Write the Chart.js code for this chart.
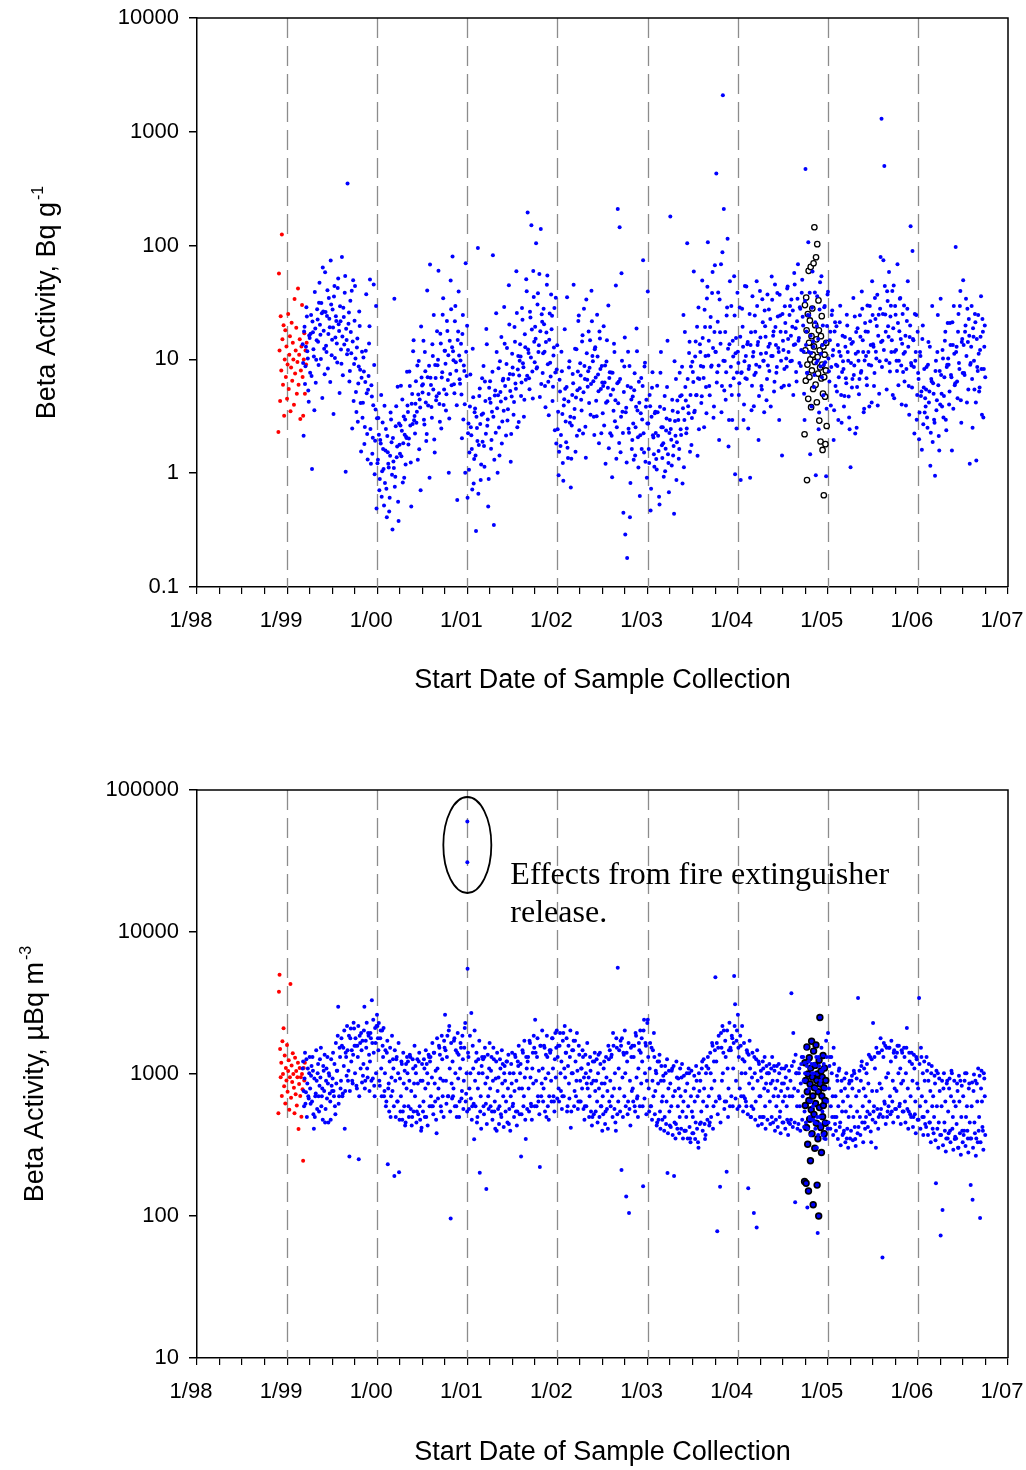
<!DOCTYPE html>
<html>
<head>
<meta charset="utf-8">
<script src="https://cdn.jsdelivr.net/npm/chart.js@4.4.1/dist/chart.umd.min.js"></script>
<style>
  html, body { margin: 0; padding: 0; background: #fff; }
  #wrap { position: relative; width: 1026px; height: 1470px; }
  .box { position: absolute; left: 0; width: 1026px; }
</style>
</head>
<body>
<div id="wrap">
  <div class="box" style="top:0;height:740px"><canvas id="topChart"></canvas></div>
  <div class="box" style="top:740px;height:730px"><canvas id="bottomChart"></canvas></div>
</div>
<script>
const FONT = "'Liberation Sans', Arial, sans-serif";
const SERIF = "'Liberation Serif', 'Times New Roman', serif";

// axis ticks
const yearTicks = [1998, 1999, 2000, 2001, 2002, 2003, 2004, 2005, 2006, 2007];
const yearLabels = ['1/98', '1/99', '1/00', '1/01', '1/02', '1/03', '1/04', '1/05', '1/06', '1/07'];
const quarterOffsets = [0.25, 0.5, 0.75];
const dashedYears = [1999, 2000, 2001, 2002, 2003, 2004, 2005, 2006];
const topYTicks = [0.1, 1, 10, 100, 1000, 10000];
const topYLabels = ['0.1', '1', '10', '100', '1000', '10000'];
const botYTicks = [10, 100, 1000, 10000, 100000];
const botYLabels = ['10', '100', '1000', '10000', '100000'];

// ---- top chart, Bq/g (two runs of 8 samples per month, in time order) ----
const topRed = [2.3, 57, 12, 4.3, 24, 8, 125, 15, 6, 20, 3.2, 10, 18, 7, 13, 4.5, 9, 25, 5.5, 11, 16, 3.5, 8.5, 21, 6.5,
  14, 10, 4, 34, 7.5, 12, 19, 5, 9.5, 42, 6, 11, 15, 3, 8, 13, 30, 7, 3.2, 10, 17, 5, 12, 9, 14];
const top1999 = [
  13.6, 2.13, 19.4, 8.72, 28.7, 11.8, 5.34, 16.2,  7.64, 24.5, 1.09, 17.3, 10.6, 39.1, 6.22, 14.7,
  22.4, 8.92, 47.2, 16.5, 31.3, 4.58, 26.3, 12.4,  58.4, 13.2, 24.1, 8.31, 34.6, 19.2, 73.8, 10.9,
  27.5, 3.31, 44.1, 15.6, 21.7, 9.39, 51.3, 17.8,  29.3, 12.2, 79.4, 7.26, 23.6, 38.5, 1.03, 14.8,
  352, 20.6, 6.41, 32.7, 11.3, 2.47, 49.5, 9.13,  44.2, 5.18, 12.7, 2.83, 8.64, 19.7, 4.13, 6.89,
  3.07, 10.4, 1.81, 6.33, 37.4, 2.21, 5.41, 13.8,  50.3, 1.21, 4.71, 2.05, 45.6, 0.98, 3.62, 0.49];
const top1999b = [
  9.31, 17.6, 6.08, 12.9, 23.8, 10.2, 4.24, 15.4,  16.8, 7.13, 21.5, 12.3, 3.58, 18.7, 9.92, 27.6,
  14.3, 31.5, 20.2, 10.1, 25.4, 64.2, 17.9, 7.42,  26.1, 11.6, 40.5, 16.7, 22.8, 6.34, 30.4, 14.9,
  19.1, 35.7, 10.3, 23.9, 13.8, 42.3, 20.4, 5.07,  21.6, 9.18, 15.9, 28.4, 13.5, 54.1, 18.6, 11.1,
  12.1, 25.8, 7.91, 17.4, 40.2, 14.4, 4.32, 21.9,  10.2, 3.45, 15.3, 6.15, 26.4, 8.11, 1.55, 11.7,
  4.15, 7.83, 2.55, 11.9, 5.05, 1.32, 7.16, 19.6,  2.45, 5.92, 1.48, 3.95, 8.93, 1.93, 29.5, 3.04];
const top2000 = [
  1.22, 3.05, 0.71, 1.96, 4.86, 1.04, 1.63, 0.52,  0.82, 2.45, 0.41, 1.53, 1.12, 0.61, 3.41, 1.87,
  0.32, 1.27, 34.2, 0.93, 3.88, 1.72, 0.56, 2.74,  1.48, 5.87, 2.36, 0.83, 3.15, 2.18, 1.19, 2.04,
  3.93, 1.79, 7.82, 2.62, 0.51, 4.97, 11.8, 2.92,  2.23, 6.42, 3.46, 1.31, 9.66, 4.45, 0.71, 6.93,
  5.11, 14.6, 2.68, 7.88, 1.92, 40.3, 3.94, 8.81,  68.2, 5.96, 3.07, 10.7, 24.6, 1.52, 6.85, 4.75,
  8.87, 60.1, 4.06, 16.8, 2.47, 7.71, 34.5, 5.45,  11.9, 3.55, 21.7, 6.58, 1.01, 14.6, 49.3, 5.93,
  80.2, 9.81, 5.04, 29.4, 7.95, 0.58, 17.6, 10.8,  6.12, 13.7, 2.03, 24.6, 8.85, 4.04, 70.1, 7.15];
const top2000b = [
  1.31, 2.18, 0.89, 1.82, 0.62, 2.79, 1.09, 3.92,  1.58, 0.73, 2.12, 1.21, 0.46, 1.42, 2.96, 0.97,
  2.04, 1.11, 0.76, 2.58, 1.38, 5.76, 0.38, 1.78,  2.63, 1.41, 4.45, 1.83, 0.91, 2.97, 2.09, 7.78,
  3.45, 2.02, 5.85, 1.24, 4.07, 2.71, 14.7, 3.18,  4.08, 2.77, 8.85, 4.92, 1.62, 3.78, 19.5, 5.91,
  6.05, 2.95, 11.6, 4.18, 2.21, 6.97, 4.96, 0.91,  6.9, 3.82, 13.6, 5.45, 1.98, 8.95, 4.38, 17.7,
  9.92, 5.05, 2.83, 13.8, 6.95, 24.7, 3.97, 11.9,  9.14, 4.95, 17.8, 10.9, 3.02, 7.45, 27.6, 12.8,
  11.8, 6.05, 21.6, 9.45, 3.96, 14.8, 39.5, 6.68,  9.78, 4.92, 16.7, 2.96, 7.92, 1.01, 11.7, 19.8];
const top2001 = [
  0.61, 2.73, 1.52, 7.37, 2.16, 0.72, 4.64, 1.33,  3.71, 0.31, 2.49, 95.2, 1.77, 5.56, 0.87, 3.27,
  1.89, 8.76, 1.14, 4.32, 18.5, 2.61, 0.51, 5.63,  6.43, 1.64, 3.47, 82.4, 0.35, 4.81, 2.27, 11.6,
  1.01, 8.36, 1.43, 5.18, 15.7, 2.84, 6.77, 28.8,  5.83, 2.14, 12.6, 3.64, 44.8, 7.46, 1.26, 4.72,
  8.47, 3.26, 19.3, 6.14, 59.6, 2.54, 10.7, 7.23,  13.6, 4.78, 28.3, 9.24, 3.14, 16.6, 6.62, 39.8,
  195, 11.4, 5.47, 23.4, 151, 7.84, 59.8, 14.3,  19.4, 105, 8.54, 38.2, 13.3, 4.67, 140, 24.9,
  7.61, 27.9, 11.7, 3.79, 17.2, 54.6, 6.37, 14.9,  9.34, 37.2, 24.2, 5.74, 12.7, 2.39, 34.8, 8.15];
const top2001b = [
  2.24, 1.07, 3.86, 2.53, 1.63, 12.4, 0.81, 3.43,  1.43, 3.14, 1.92, 0.66, 4.76, 2.71, 1.19, 6.82,
  3.34, 1.73, 6.38, 2.22, 13.6, 2.97, 0.89, 4.52,  4.17, 1.96, 7.78, 3.13, 1.31, 5.33, 25.4, 3.73,
  4.84, 2.52, 9.63, 4.26, 1.82, 6.54, 3.54, 13.7,  4.53, 9.12, 2.91, 6.72, 20.3, 5.27, 2.21, 11.2,
  7.36, 4.22, 14.3, 5.52, 25.6, 8.17, 2.82, 9.71,  10.6, 6.26, 22.3, 8.53, 4.43, 12.8, 50.6, 7.17,
  12.2, 6.84, 26.2, 10.4, 18.3, 4.54, 35.3, 9.44,  15.2, 8.33, 30.3, 11.6, 56.2, 17.7, 6.07, 21.4,
  11.3, 20.4, 5.83, 14.2, 45.3, 9.06, 3.23, 25.3,  7.07, 18.4, 4.32, 10.8, 28.3, 7.66, 1.82, 13.3];
const top2002 = [
  2.43, 0.96, 6.64, 1.73, 11.7, 3.32, 0.86, 4.47,  5.53, 1.87, 35.1, 1.36, 8.48, 2.77, 0.75, 2.63,
  7.44, 45.3, 3.67, 1.54, 12.3, 5.36, 21.7, 2.38,  9.26, 4.42, 14.4, 2.23, 27.8, 6.73, 1.37, 11.3,
  5.76, 17.6, 8.43, 3.27, 40.2, 10.7, 6.42, 2.17,  12.8, 4.34, 24.7, 7.36, 1.83, 15.3, 5.49, 8.77,
  3.36, 19.6, 6.26, 1.21, 9.56, 4.28, 29.7, 6.86,  2.24, 7.67, 0.92, 5.43, 13.7, 2.86, 44.6, 2.54,
  210, 6.37, 145, 1.53, 57.2, 3.47, 0.45, 8.66,  0.29, 3.76, 0.18, 11.7, 2.27, 0.41, 5.67, 1.63,
  4.73, 1.31, 7.54, 2.53, 18.7, 3.56, 1.12, 4.16,  2.16, 6.88, 2.97, 74.3, 1.52, 9.34, 3.83, 0.91];
const top2002b = [
  3.46, 1.54, 5.23, 2.17, 7.86, 1.23, 3.94, 18.4,  2.84, 5.73, 1.67, 4.26, 9.63, 3.13, 1.34, 4.87,
  6.16, 3.07, 12.4, 4.63, 2.13, 7.84, 24.3, 5.57,  7.23, 3.56, 16.3, 5.14, 8.73, 2.56, 33.6, 6.63,
  7.86, 4.14, 14.7, 6.08, 21.6, 9.64, 3.13, 12.3,  6.94, 3.17, 10.6, 5.26, 17.6, 8.23, 2.24, 6.27,
  5.83, 2.63, 8.86, 4.17, 14.7, 5.64, 1.66, 7.73,  4.86, 2.13, 7.64, 3.53, 11.6, 4.37, 1.34, 6.18,
  4.12, 1.84, 6.73, 3.14, 9.73, 2.26, 5.17, 15.6,  3.43, 1.24, 5.83, 2.46, 8.74, 0.82, 4.44, 1.96,
  2.74, 5.37, 1.43, 3.84, 11.8, 2.07, 6.36, 0.63,  3.37, 1.63, 5.83, 2.24, 8.67, 1.26, 4.43, 2.73];
const top2003 = [
  39.6, 1.63, 4.87, 0.47, 3.14, 7.73, 2.06, 1.14,  3.47, 1.33, 5.86, 2.13, 0.62, 3.83, 11.6, 1.76,
  2.53, 0.93, 4.76, 1.64, 3.03, 14.6, 1.23, 2.26,  180, 1.97, 4.43, 1.43, 0.44, 2.87, 6.74, 1.87,
  3.43, 1.34, 7.63, 2.43, 4.83, 0.81, 24.6, 2.93,  5.73, 2.24, 105, 3.87, 11.4, 1.54, 8.64, 3.06,
  7.76, 59.3, 3.53, 14.4, 4.86, 1.42, 28.6, 6.73,  11.6, 4.13, 49.4, 8.63, 2.53, 19.3, 5.73, 34.3,
  107, 14.6, 4.83, 23.6, 8.86, 58.6, 3.07, 17.4,  11.7, 430, 7.73, 38.7, 1.96, 17.3, 68.6, 5.84,
  2100, 210, 9.66, 4.43, 24.3, 115, 1.72, 13.6,  5.86, 29.4, 2.93, 10.6, 53.7, 0.98, 15.4, 7.67];
const top2003b = [
  2.74, 1.23, 3.87, 0.73, 5.64, 2.16, 1.47, 3.37,  2.26, 1.08, 3.43, 1.57, 0.53, 7.64, 2.54, 1.36,
  1.83, 3.66, 1.04, 2.37, 5.73, 1.47, 0.68, 2.93,  2.44, 1.17, 3.54, 1.73, 9.64, 2.13, 0.87, 4.36,
  2.93, 1.63, 4.74, 2.17, 8.63, 3.73, 1.13, 17.4,  4.36, 2.47, 6.73, 3.36, 14.3, 4.87, 1.77, 9.53,
  6.34, 3.43, 10.6, 4.84, 19.4, 6.83, 2.43, 13.6,  8.73, 4.74, 15.4, 6.86, 27.3, 10.7, 3.36, 43.6,
  10.8, 5.84, 19.3, 8.63, 38.4, 12.6, 3.86, 67.3,  11.6, 6.27, 21.4, 8.84, 33.6, 13.7, 3.43, 87.4,
  9.73, 5.34, 17.4, 7.73, 28.6, 12.4, 2.93, 48.6,  8.63, 4.87, 14.6, 6.83, 24.3, 11.3, 2.47, 38.6];
const top2004 = [
  11.7, 4.86, 28.6, 0.87, 7.73, 19.4, 2.93, 9.64,  6.84, 43.7, 13.6, 2.47, 8.73, 0.91, 17.3, 5.86,
  10.6, 3.87, 24.3, 7.64, 48.6, 13.4, 1.96, 8.63,  15.6, 5.84, 33.7, 9.73, 3.43, 19.6, 11.4, 6.73,
  8.84, 27.4, 13.7, 3.86, 53.6, 10.7, 17.6, 6.37,  19.3, 7.63, 38.4, 12.6, 2.94, 24.3, 9.73, 1.43,
  14.6, 5.87, 29.3, 17.4, 8.63, 43.7, 11.6, 24.6,  9.63, 33.6, 19.4, 4.87, 57.4, 13.6, 7.74, 21.6,
  68.7, 15.4, 28.7, 8.73, 38.6, 23.7, 11.7, 2.94,  470, 17.6, 7.63, 107, 24.3, 1.47, 11.4, 28.4,
  14.4, 5.73, 38.7, 0.96, 19.6, 9.74, 2.43, 27.4,  8.64, 53.7, 13.4, 4.84, 28.7, 9.43, 0.94, 19.7];
const top2004b = [
  9.31, 6.18, 15.8, 7.59, 27.8, 12.9, 4.02, 44.1,  10.7, 6.72, 14.2, 8.25, 25.1, 13.4, 3.58, 35.8,
  11.6, 7.28, 17.5, 8.96, 29.5, 14.2, 4.76, 39.9,  11.2, 5.45, 21.2, 9.72, 26.9, 15.8, 4.37, 37.2,
  12.9, 7.91, 22.7, 10.7, 33.4, 16.1, 5.21, 45.5,  13.4, 8.58, 23.8, 11.6, 36.9, 17.5, 5.67, 25.1,
  12.1, 8.25, 20.9, 10.2, 41.9, 15.1, 5.93, 29.5,  16.1, 9.72, 26.9, 13.4, 45.5, 18.8, 6.41, 34.1,
  14.6, 9.31, 27.8, 12.1, 50.1, 19.9, 4.98, 32.6,  13.4, 7.59, 24.5, 11.6, 38.5, 16.1, 3.85, 59.3,
  12.9, 7.28, 21.2, 9.31, 35.8, 15.1, 3.41, 47.6,  11.2, 6.97, 19.9, 8.96, 29.5, 14.2, 3.69, 37.2];
const top2005 = [
  39.4, 7.86, 14.7, 3.93, 24.6, 10.8, 1.96, 17.6,  5.84, 19.6, 8.73, 2.93, 11.7, 29.6, 4.87, 7.74,
  9.63, 3.86, 15.7, 6.84, 24.7, 11.6, 4.73, 2.43,  1.13, 13.7, 6.73, 34.6, 8.84, 2.23, 17.4, 5.73,
  11.7, 4.93, 24.4, 7.63, 39.6, 14.7, 3.43, 9.76,  17.6, 6.84, 29.7, 11.6, 3.86, 21.6, 8.83, 48.7,
  13.6, 5.84, 34.7, 11.7, 19.7, 3.93, 24.7, 9.64,  79.6, 1300, 14.6, 74.3, 500, 24.8, 9.83, 39.7,
  19.6, 58.7, 7.84, 29.6, 14.7, 4.86, 44.6, 11.7,  24.7, 9.73, 68.6, 5.93, 17.7, 34.7, 8.84, 13.7,
  7.76, 29.7, 11.6, 3.93, 21.7, 48.6, 5.84, 15.7,  148, 8.84, 89.6, 14.7, 2.23, 9.73, 24.6, 4.86];
const top2005b = [
  10.2, 6.41, 17.5, 8.58, 26.9, 12.1, 3.58, 21.2,  8.96, 5.21, 13.4, 6.97, 21.2, 10.7, 2.78, 16.1,
  8.25, 4.76, 12.9, 6.18, 19.9, 9.72, 3.09, 15.1,  9.31, 5.67, 14.2, 7.28, 23.8, 11.2, 2.51, 18.8,
  9.72, 6.72, 15.8, 7.91, 27.8, 11.6, 3.69, 20.9,  10.7, 5.93, 17.5, 8.96, 29.5, 13.4, 4.19, 24.5,
  12.9, 7.59, 22.7, 10.2, 36.9, 16.1, 4.98, 27.8,  14.2, 8.58, 25.1, 12.1, 44.1, 17.5, 5.45, 32.6,
  15.8, 9.31, 23.8, 11.6, 39.9, 18.8, 4.55, 29.5,  12.1, 7.91, 20.9, 9.72, 34.1, 15.1, 4.02, 25.1,
  11.2, 6.41, 16.1, 8.25, 27.8, 12.9, 3.26, 19.9,  9.31, 5.67, 15.1, 8.58, 25.1, 11.6, 2.95, 17.5];
const top2006 = [
  7.59, 1.99, 11.6, 4.76, 1.61, 19.9, 5.67, 3.41,  3.85, 8.58, 2.51, 14.2, 5.21, 1.16, 6.72, 29.5,
  6.18, 2.95, 0.95, 9.72, 4.37, 24.5, 2.12, 7.91,  34.1, 4.98, 12.1, 3.09, 6.97, 17.5, 2.38, 8.96,
  10.2, 4.02, 20.9, 7.28, 1.58, 13.4, 29.5, 5.93,  97.3, 12.9, 4.55, 25.1, 8.25, 39.9, 2.78, 15.1,
  49.5, 7.59, 17.5, 34.1, 4.19, 14.2, 22.7, 1.21,  9.31, 29.5, 2.51, 15.8, 5.45, 21.2, 1.29, 8.58,
  24.5, 5.21, 12.1, 35.8, 3.26, 17.5, 8.25, 19.9];
const top2006b = [
  6.72, 3.41, 10.7, 5.21, 15.1, 2.69, 8.25, 4.55,  5.45, 3.09, 8.96, 4.19, 12.9, 2.27, 6.41, 1.88,
  4.98, 2.78, 7.91, 3.58, 11.6, 5.93, 1.58, 4.02,  7.28, 3.85, 10.2, 4.76, 14.6, 2.95, 8.58, 20.9,
  8.96, 5.21, 13.4, 6.97, 21.2, 3.69, 11.2, 6.18,  11.6, 6.41, 17.5, 9.31, 29.5, 4.37, 14.2, 7.59,
  13.4, 7.28, 19.9, 10.7, 27.8, 5.45, 16.1, 8.96,  12.9, 6.72, 18.8, 9.72, 25.1, 4.19, 15.1, 7.91,
  11.2, 5.67, 15.8, 8.25, 22.7, 3.09, 12.9, 6.97];
const topBlack = [2.2, 30, 12, 6.5, 35, 18, 0.87, 9, 25, 4.5, 60, 14, 7, 22, 10, 65, 3.8, 16, 8, 28, 11, 5.5, 70, 13,
  145, 9.5, 20, 6, 79, 15, 4.2, 103, 10.5, 7.5, 33, 18, 2.9, 12, 8.5, 1.9, 16, 6.8, 24, 9, 1.6, 5, 13, 0.64,
  7, 11, 4.7, 1.8, 8, 14, 2.6];

// ---- bottom chart, uBq/m3 ----
const botRed = [530, 3800, 5000, 1500, 950, 1200, 700, 1700, 1000, 2100, 820, 1350, 620, 1100, 900, 1600, 750, 1050,
  1250, 560, 950, 4300, 680, 1150, 880, 1400, 1000, 800, 530, 1300, 720, 1050, 600, 950, 1200, 410, 850, 1100,
  700, 950, 500, 1000, 780, 245, 1100, 900, 1200];
const bot1999 = [
  1093, 759, 931, 618, 1271, 858, 697, 1012,  791, 972, 641, 1054, 412, 498, 728, 896,
  1012, 697, 825, 945, 593, 791, 1138, 759,  455, 896, 672, 858, 1012, 728, 476, 825,
  931, 759, 1175, 521, 858, 1054, 2980, 697,  1318, 896, 1584, 728, 1138, 412, 1413, 972,
  1472, 1054, 262, 1785, 1226, 896, 1366, 2090,  1012, 1584, 791, 1318, 251, 1863, 1093, 1472,
  1718, 1175, 2980, 896, 1529, 1093, 1942, 1366,  1226, 1785, 3300, 931, 1413, 697, 1651, 2180];
const bot1999b = [
  1226, 593, 1413, 745, 498, 1093, 672, 1318,  618, 1138, 1318, 521, 931, 697, 1472, 567,
  1175, 545, 1271, 1529, 697, 476, 1054, 1366,  567, 1093, 1318, 455, 972, 641, 1271, 759,
  1413, 697, 593, 1651, 1054, 1863, 618, 1529,  791, 1785, 697, 1529, 2027, 759, 1318, 2180,
  896, 1863, 759, 2090, 1472, 858, 2300, 1584,  1785, 825, 1584, 2180, 697, 1651, 1942, 872,
  972, 2027, 791, 1718, 2300, 945, 1863, 759,  1942, 896, 1651, 2410, 825, 2110, 1012, 2610];
const bot2000 = [
  2180, 1472, 896, 1785, 1093, 2027, 1318, 697,  1012, 593, 1413, 231, 858, 1226, 498, 945,
  759, 1093, 191, 896, 1271, 641, 1012, 203,  931, 697, 1175, 545, 858, 1054, 455, 791,
  1012, 593, 896, 1318, 759, 498, 1093, 858,  697, 1012, 545, 858, 1226, 593, 896, 419,
  896, 641, 1093, 791, 498, 1012, 858, 1318,  1226, 697, 945, 593, 1413, 858, 1054, 382,
  1093, 791, 1529, 931, 545, 1271, 896, 1718,  2610, 896, 1318, 697, 2027, 1093, 96, 858,
  1226, 791, 1785, 1012, 593, 1413, 931, 498,  1093, 1529, 759, 1271, 896, 2110, 641, 1012];
const bot2000b = [
  1785, 2290, 825, 2027, 697, 1584, 2110, 759,  1472, 641, 1718, 791, 545, 1529, 697, 1863,
  1271, 593, 1472, 498, 1318, 641, 1651, 476,  545, 1226, 476, 1413, 593, 434, 1175, 1318,
  1226, 498, 1366, 567, 434, 1271, 545, 1584,  1138, 455, 1271, 521, 1413, 476, 398, 1175,
  545, 1271, 498, 1472, 1175, 434, 1366, 593,  1318, 593, 1651, 521, 1413, 641, 476, 1785,
  672, 1584, 1366, 593, 1863, 697, 498, 1529,  1472, 618, 1863, 697, 2180, 545, 1651, 672,
  697, 1718, 593, 1472, 498, 1942, 1366, 641,  1651, 672, 1863, 567, 1529, 2290, 725, 545];
const bot2001 = [
  5500, 1318, 791, 1012, 2690, 593, 1093, 347,  896, 1226, 455, 791, 1012, 202, 697, 1138,
  1012, 593, 1318, 858, 155, 945, 697, 1093,  791, 1054, 545, 896, 1271, 641, 931, 398,
  759, 945, 593, 1093, 498, 858, 697, 1012,  896, 641, 1226, 791, 445, 1012, 697, 858,
  593, 1012, 759, 1318, 896, 545, 1138, 791,  1012, 262, 791, 1413, 697, 945, 348, 1093,
  1226, 791, 1718, 945, 593, 1093, 858, 1529,  2410, 896, 1318, 697, 1054, 221, 1584, 858,
  1093, 791, 1529, 931, 498, 1318, 1012, 697,  1413, 896, 1785, 1093, 641, 1271, 945, 2027];
const bot2001b = [
  1413, 567, 1863, 672, 476, 1584, 618, 2027,  593, 1413, 498, 1271, 1718, 545, 412, 1318,
  1271, 521, 1529, 618, 445, 1366, 567, 1651,  593, 1318, 476, 1529, 545, 412, 1226, 1413,
  567, 445, 1271, 521, 1472, 1175, 423, 1138,  545, 1226, 455, 1366, 567, 398, 1175, 1413,
  618, 498, 1366, 545, 434, 1226, 1584, 521,  1175, 521, 1472, 593, 1718, 476, 1318, 567,
  1318, 545, 1651, 618, 476, 1413, 1863, 593,  1413, 593, 1785, 641, 521, 1584, 697, 2027,
  641, 1584, 545, 1366, 1863, 593, 476, 1472,  1472, 641, 1785, 697, 545, 1942, 1529, 672];
const bot2002 = [
  1318, 791, 1584, 1012, 1226, 697, 1942, 1093,  945, 1413, 545, 1138, 858, 1318, 419, 1012,
  1012, 1718, 759, 1226, 896, 1054, 641, 1366,  896, 1093, 791, 1318, 945, 593, 1012, 858,
  791, 945, 697, 1054, 858, 498, 896, 1226,  759, 896, 641, 1012, 791, 1413, 593, 858,
  697, 1093, 858, 545, 945, 759, 1584, 641,  896, 1318, 697, 1942, 791, 1012, 398, 1529,
  5600, 1093, 791, 1718, 211, 945, 1413, 697,  1012, 137, 1226, 641, 105, 896, 1529, 759,
  791, 1318, 593, 1942, 945, 697, 1093, 1472,  2027, 858, 1226, 162, 2410, 1012, 1584, 896];
const bot2002b = [
  1584, 641, 1942, 759, 567, 1718, 697, 2180,  1413, 1785, 593, 1584, 672, 2027, 545, 1472,
  1472, 593, 1718, 697, 1942, 567, 1584, 641,  641, 1093, 1472, 567, 476, 1366, 593, 1651,
  1175, 498, 1318, 545, 434, 1226, 521, 1413,  545, 1271, 455, 1366, 498, 1175, 593, 398,
  521, 1226, 445, 1318, 567, 412, 1271, 1472,  593, 1366, 498, 1584, 567, 455, 1785, 521,
  641, 1472, 545, 1584, 1785, 498, 1366, 2027,  593, 1413, 521, 1651, 567, 434, 1318, 1584,
  641, 1584, 545, 1863, 672, 498, 1651, 593,  1413, 1785, 593, 2027, 672, 1651, 521, 2290];
const bot2003 = [
  2410, 791, 1093, 593, 1529, 896, 697, 1318,  759, 1012, 455, 858, 1226, 545, 896, 641,
  697, 896, 498, 1012, 641, 201, 791, 545,  858, 593, 1093, 697, 191, 759, 445, 945,
  593, 791, 498, 697, 945, 545, 641, 398,  759, 498, 858, 593, 1012, 352, 697, 545,
  498, 791, 641, 455, 896, 697, 302, 759,  896, 545, 1226, 641, 791, 348, 1012, 593,
  1318, 697, 455, 1012, 791, 1584, 593, 896,  4800, 1226, 78, 1529, 697, 161, 1942, 896,
  1012, 2027, 641, 1318, 205, 1093, 791, 2300,  1529, 697, 1785, 1093, 4900, 3100, 896, 2027];
const bot2003b = [
  1318, 545, 1651, 593, 476, 1472, 1942, 521,  1054, 434, 1226, 476, 1366, 412, 1138, 476,
  972, 398, 1138, 445, 1271, 382, 1054, 434,  423, 1054, 372, 1138, 455, 352, 1226, 412,
  931, 382, 1093, 412, 1175, 352, 972, 398,  398, 1012, 352, 1093, 423, 331, 1054, 382,
  382, 972, 348, 1138, 412, 331, 1012, 445,  455, 1093, 398, 1271, 445, 372, 1138, 476,
  1093, 434, 1413, 498, 1651, 412, 1226, 1472,  641, 1651, 521, 1863, 672, 455, 1529, 2180,
  1413, 567, 1718, 641, 2027, 498, 1472, 593,  1472, 1863, 593, 1651, 2180, 672, 1718, 567];
const bot2004 = [
  2610, 1318, 791, 1584, 1012, 1271, 697, 1226,  1012, 593, 1413, 157, 858, 1093, 498, 945,
  791, 105, 1012, 641, 83, 896, 1226, 697,  697, 945, 498, 1093, 791, 593, 858, 1012,
  759, 1012, 641, 858, 498, 896, 697, 1054,  791, 593, 896, 697, 1012, 545, 759, 858,
  641, 858, 697, 945, 593, 791, 455, 697,  896, 3700, 697, 1942, 791, 125, 1012, 593,
  759, 1012, 593, 858, 1318, 697, 896, 545,  896, 1529, 115, 1226, 791, 1093, 641, 1012,
  593, 1012, 455, 791, 302, 76, 1318, 498,  896, 1529, 545, 1093, 352, 791, 1718, 641];
const bot2004b = [
  1529, 593, 1863, 697, 2180, 545, 1651, 672,  641, 1472, 521, 1366, 1718, 498, 593, 1413,
  567, 1318, 476, 1271, 1472, 434, 1175, 498,  1054, 445, 1226, 498, 1318, 412, 1138, 476,
  1012, 1175, 445, 1093, 1318, 455, 1138, 398,  476, 1138, 423, 1175, 498, 382, 1093, 455,
  455, 1093, 412, 1138, 476, 372, 1054, 445,  476, 1138, 423, 1226, 455, 1366, 1012, 412,
  445, 1093, 398, 1175, 476, 1318, 423, 1012,  455, 1138, 412, 1226, 498, 372, 1175, 476,
  476, 1175, 412, 1318, 498, 372, 1138, 445,  423, 1054, 372, 1175, 455, 348, 1318, 412];
const bot2005 = [
  1942, 791, 1318, 593, 1012, 697, 1529, 498,  697, 498, 896, 593, 1093, 455, 759, 545,
  641, 398, 791, 545, 352, 697, 498, 896,  593, 896, 791, 498, 1012, 348, 697, 545,
  3430, 759, 498, 896, 1226, 593, 791, 455,  697, 1012, 545, 858, 641, 1318, 331, 759,
  2290, 593, 1093, 302, 759, 1413, 498, 858,  1785, 791, 51, 1318, 641, 1584, 945, 498,
  1012, 1529, 697, 1226, 545, 896, 1413, 791,  1318, 759, 1584, 1012, 593, 1093, 858, 1413,
  896, 1529, 641, 1012, 2110, 791, 545, 1226,  697, 1413, 896, 498, 1093, 641, 1318, 858];
const bot2005b = [
  455, 1138, 412, 1318, 498, 372, 1175, 445,  398, 972, 348, 1054, 423, 315, 896, 372,
  382, 931, 331, 1012, 412, 302, 858, 352,  398, 972, 341, 1054, 423, 311, 931, 382,
  423, 1054, 372, 1138, 455, 331, 1093, 412,  498, 1175, 423, 1366, 521, 393, 1271, 476,
  545, 1318, 455, 1529, 567, 412, 1413, 521,  567, 1472, 498, 1651, 618, 445, 1529, 545,
  593, 1529, 521, 1718, 641, 455, 1472, 567,  567, 1413, 498, 1584, 618, 445, 1472, 545,
  545, 1318, 455, 1529, 567, 412, 1413, 521,  498, 1175, 423, 1366, 521, 382, 1271, 476];
const bot2006 = [
  791, 3430, 593, 1529, 697, 1012, 498, 896,  641, 1318, 545, 896, 455, 759, 1012, 593,
  697, 498, 858, 170, 593, 1012, 455, 759,  73, 593, 110, 791, 455, 641, 352, 896,
  545, 791, 398, 697, 1012, 498, 641, 348,  593, 445, 759, 302, 641, 896, 498, 398,
  697, 398, 1012, 498, 593, 352, 791, 455,  165, 593, 130, 759, 455, 896, 352, 641,
  1093, 498, 97, 791, 641, 398, 1012, 697];
const bot2006b = [
  476, 1175, 412, 1318, 498, 372, 1226, 445,  423, 1054, 372, 1175, 455, 331, 1138, 412,
  382, 972, 341, 1054, 412, 302, 931, 372,  372, 896, 315, 1012, 398, 285, 858, 352,
  382, 931, 331, 1054, 412, 293, 896, 362,  352, 858, 302, 972, 382, 270, 825, 331,
  372, 896, 311, 1012, 398, 280, 858, 352,  352, 872, 302, 991, 382, 266, 858, 331,
  398, 972, 331, 1054, 423, 293, 931, 372];
const botBlack = [175, 1200, 600, 900, 170, 420, 1550, 750, 320, 1000, 150, 650, 1300, 480, 850, 245, 1100, 560,
  1700, 380, 950, 700, 120, 1450, 520, 800, 300, 1150, 620, 1600, 450, 900, 165, 1000, 350, 750, 100, 1250,
  580, 2500, 850, 420, 1050, 280, 700, 950, 500, 1350, 600, 800, 380, 1100, 650, 450, 900];
const botFire = [60000, 31000];

// spread a run of samples evenly over its collection period; `lag` staggers the second run
function place(values, start, end, lag = 0.5) {
  const step = (end - start) / values.length;
  return values.map((v, i) => ({ x: start + step * (i + lag), y: v }));
}

function yearly(runs) {
  const out = [];
  runs.forEach(([a, b, s, e]) => {
    out.push(...place(a, s, e, 0.25));
    out.push(...place(b, s, e, 0.75));
  });
  return out;
}

const topBlue = yearly([
  [top1999, top1999b, 1999.17, 2000], [top2000, top2000b, 2000, 2001], [top2001, top2001b, 2001, 2002],
  [top2002, top2002b, 2002, 2003], [top2003, top2003b, 2003, 2004], [top2004, top2004b, 2004, 2005],
  [top2005, top2005b, 2005, 2006], [top2006, top2006b, 2006, 2006.75]
]);
const botBlue = yearly([
  [bot1999, bot1999b, 1999.17, 2000], [bot2000, bot2000b, 2000, 2001], [bot2001, bot2001b, 2001, 2002],
  [bot2002, bot2002b, 2002, 2003], [bot2003, bot2003b, 2003, 2004], [bot2004, bot2004b, 2004, 2005],
  [bot2005, bot2005b, 2005, 2006], [bot2006, bot2006b, 2006, 2006.75]
]).concat(botFire.map(v => ({ x: 2001.0, y: v })));

const xTickValues = [];
yearTicks.forEach((y, i) => {
  xTickValues.push(y);
  if (i < yearTicks.length - 1) quarterOffsets.forEach(q => xTickValues.push(y + q));
});

function drawYTitle(ctx, x, cy, main, sup, size) {
  ctx.save();
  ctx.translate(x, cy);
  ctx.rotate(-Math.PI / 2);
  ctx.fillStyle = '#000';
  ctx.textAlign = 'left';
  ctx.textBaseline = 'alphabetic';
  ctx.font = size + 'px ' + FONT;
  const w1 = ctx.measureText(main).width;
  const supSize = Math.round(size * 0.6);
  ctx.font = supSize + 'px ' + FONT;
  const w2 = ctx.measureText(sup).width;
  const start = -(w1 + w2 + 2) / 2;
  ctx.font = size + 'px ' + FONT;
  ctx.fillText(main, start, size * 0.36);
  ctx.font = supSize + 'px ' + FONT;
  ctx.fillText(sup, start + w1 + 2, size * 0.36 - size * 0.42);
  ctx.restore();
}

function makeFramePlugin(opts) {
  return {
    id: 'frame',
    beforeDatasetsDraw(chart) {
      const { ctx, chartArea: a, scales: { x } } = chart;
      ctx.save();
      ctx.strokeStyle = '#8c8c8c';
      ctx.lineWidth = 1.3;
      ctx.setLineDash([20, 8]);
      dashedYears.forEach(yr => {
        const px = Math.round(x.getPixelForValue(yr)) + 0.5;
        ctx.beginPath();
        ctx.moveTo(px, a.top);
        ctx.lineTo(px, a.bottom);
        ctx.stroke();
      });
      ctx.restore();
    },
    afterDraw(chart) {
      const { ctx, chartArea: a, scales: { x, y } } = chart;
      ctx.save();
      ctx.strokeStyle = '#000';
      ctx.lineWidth = 1.5;
      ctx.beginPath();
      ctx.moveTo(a.left, a.top);
      ctx.lineTo(a.right, a.top);
      ctx.lineTo(a.right, a.bottom);
      ctx.stroke();
      // axis titles
      ctx.fillStyle = '#000';
      ctx.font = '27px ' + FONT;
      ctx.textAlign = 'center';
      ctx.textBaseline = 'middle';
      ctx.fillText('Start Date of Sample Collection', (a.left + a.right) / 2, a.bottom + opts.xTitleOffset);
      drawYTitle(ctx, opts.yTitleX, (a.top + a.bottom) / 2, opts.yTitle, opts.ySup, 27);
      if (opts.note) {
        const cx = x.getPixelForValue(opts.note.x);
        const cy = y.getPixelForValue(opts.note.y);
        ctx.lineWidth = 1.8;
        ctx.beginPath();
        ctx.ellipse(cx, cy, 24, 48, 0, 0, Math.PI * 2);
        ctx.stroke();
        ctx.font = '32px ' + SERIF;
        ctx.textAlign = 'left';
        ctx.textBaseline = 'alphabetic';
        ctx.fillText(opts.note.lines[0], cx + 43, cy + 39);
        ctx.fillText(opts.note.lines[1], cx + 43, cy + 77);
      }
      ctx.restore();
    }
  };
}

function makeChart(el, cfg) {
  const H = el.parentNode.clientHeight;
  return new Chart(el, {
    type: 'scatter',
    data: { datasets: cfg.datasets },
    options: {
      responsive: true,
      maintainAspectRatio: false,
      animation: false,
      devicePixelRatio: 1,
      events: [],
      layout: { padding: { top: cfg.padTop, right: 18, left: 0, bottom: 0 } },
      plugins: { legend: { display: false }, tooltip: { enabled: false } },
      scales: {
        x: {
          type: 'linear',
          min: 1998,
          max: 2007,
          afterBuildTicks: s => { s.ticks = xTickValues.map(v => ({ value: v })); },
          afterFit: s => {
            s.height = H - cfg.areaBottom;
            s.paddingLeft = 0;
            s.paddingRight = 0;
          },
          ticks: {
            autoSkip: false,
            maxRotation: 0,
            padding: 14,
            labelOffset: -6,
            color: '#000',
            font: { family: FONT, size: 22 },
            callback: v => {
              const i = yearTicks.indexOf(v);
              return i >= 0 ? yearLabels[i] : '';
            }
          },
          grid: { drawOnChartArea: false, drawTicks: true, tickLength: 7, color: '#000', lineWidth: 1.2 },
          border: { display: true, color: '#000', width: 1.5 }
        },
        y: {
          type: 'logarithmic',
          min: cfg.yTicks[0],
          max: cfg.yTicks[cfg.yTicks.length - 1],
          afterBuildTicks: s => { s.ticks = cfg.yTicks.map(v => ({ value: v })); },
          afterFit: s => {
            s.width = 197;
            s.paddingTop = 0;
            s.paddingBottom = 0;
          },
          ticks: {
            padding: 10,
            color: '#000',
            font: { family: FONT, size: 22 },
            callback: v => {
              const i = cfg.yTicks.indexOf(v);
              return i >= 0 ? cfg.yLabels[i] : '';
            }
          },
          grid: { drawOnChartArea: false, drawTicks: true, tickLength: 8, color: '#000', lineWidth: 1.5 },
          border: { display: true, color: '#000', width: 1.5 }
        }
      }
    },
    plugins: [makeFramePlugin(cfg.frame)]
  });
}

const dot = (color) => ({ pointRadius: 2, pointBorderWidth: 0, backgroundColor: color, borderColor: color });

makeChart(document.getElementById('topChart'), {
  padTop: 18,
  areaBottom: 587,
  yTicks: topYTicks,
  yLabels: topYLabels,
  datasets: [
    { label: 'Blue', data: topBlue, ...dot('#0000ff') },
    { label: 'Red', data: place(topRed, 1998.9, 1999.22), ...dot('#ff0000') },
    { label: 'Black', data: place(topBlack, 2004.74, 2004.99), pointRadius: 2.7, pointBorderWidth: 1.3,
      backgroundColor: '#ffffff', borderColor: '#000000' }
  ],
  frame: { xTitleOffset: 94, yTitleX: 45, yTitle: 'Beta Activity, Bq g', ySup: '-1' }
});

makeChart(document.getElementById('bottomChart'), {
  padTop: 50,
  areaBottom: 618,
  yTicks: botYTicks,
  yLabels: botYLabels,
  datasets: [
    { label: 'Blue', data: botBlue, ...dot('#0000ff') },
    { label: 'Red', data: place(botRed, 1998.9, 1999.2), ...dot('#ff0000') },
    { label: 'Black', data: place(botBlack, 2004.74, 2004.98), pointRadius: 2.9, pointBorderWidth: 1.6,
      backgroundColor: '#0000ff', borderColor: '#000000' }
  ],
  frame: {
    xTitleOffset: 95, yTitleX: 33, yTitle: 'Beta Activity, \u00b5Bq m', ySup: '-3',
    note: { x: 2001.0, y: 41000, lines: ['Effects from fire extinguisher', 'release.'] }
  }
});
</script>
</body>
</html>
